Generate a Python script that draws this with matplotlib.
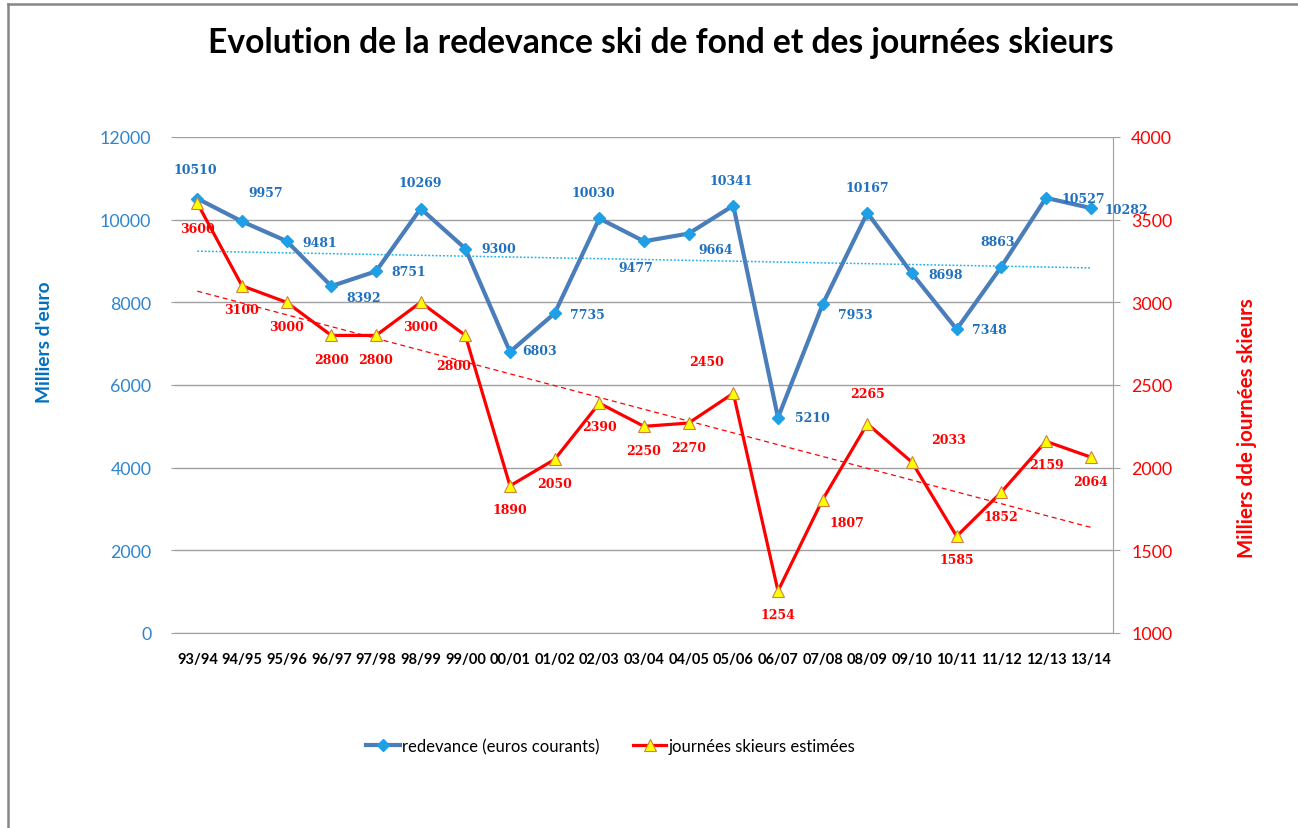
import numpy as np
import matplotlib
matplotlib.use("Agg")
import matplotlib.pyplot as plt
from matplotlib.lines import Line2D

# ---------------- data ----------------
seasons = ["93/94", "94/95", "95/96", "96/97", "97/98", "98/99", "99/00", "00/01",
           "01/02", "02/03", "03/04", "04/05", "05/06", "06/07", "07/08", "08/09",
           "09/10", "10/11", "11/12", "12/13", "13/14"]
redevance = [10510, 9957, 9481, 8392, 8751, 10269, 9300, 6803, 7735, 10030, 9477,
             9664, 10341, 5210, 7953, 10167, 8698, 7348, 8863, 10527, 10282]
journees = [3600, 3100, 3000, 2800, 2800, 3000, 2800, 1890, 2050, 2390, 2250,
            2270, 2450, 1254, 1807, 2265, 2033, 1585, 1852, 2159, 2064]

title = "Evolution de la redevance ski de fond et des journées skieurs"
left_label = "Milliers d'euro"
right_label = "Milliers dde journées skieurs"
legend_labels = ["redevance (euros courants)", "journées skieurs estimées"]

# label offsets in pixels (dx, dy downward)
blue_off = [(-2, -29), (24, -29), (33, 1), (32, 11), (33, 0), (0, -26), (33, 0),
            (30, -1), (33, 1), (-6, -26), (-8, 26), (27, 16), (-2, -25), (34, 0),
            (33, 10), (0, -25), (34, 1), (33, 0), (-4, -25), (37, 1), (36, 1)]
red_off = [(0, 25), (0, 24), (0, 24), (0, 24), (0, 24), (0, 24), (-12, 30),
           (0, 24), (0, 24), (0, 23), (0, 24), (0, 24), (-27, -32), (0, 23),
           (24, 23), (0, -30), (36, -23), (0, 23), (0, 24), (0, 23), (0, 24)]

# ---------------- style ----------------
W, H = 1298, 829
BLUE_LINE = "#4A7EBB"
BLUE_MK = "#1FA0E6"
BLUE_TXT = "#1F70BE"
BLUE_TICK = "#2F86CF"
RED = "#FF0000"
GRID = "#A0A0A0"
SANS = ["Lato", "DejaVu Sans"]
SERIF = ["DejaVu Serif"]

fig = plt.figure(figsize=(W / 100, H / 100), dpi=100)
ax = fig.add_axes([175 / W, 1 - 634 / H, (1113 - 175) / W, (634 - 138) / H])
ax2 = ax.twinx()

x = np.arange(len(seasons))

# left axis series
ax.plot(x, redevance, color=BLUE_LINE, lw=3.0, marker="D", ms=6.5,
        mfc=BLUE_MK, mec=BLUE_MK, zorder=3, label=legend_labels[0])
cb = np.polyfit(x, redevance, 1)
ax.plot(x, np.polyval(cb, x), color="#1FB0F0", lw=1.1, ls=(0, (1.2, 1.2)), zorder=2)

ax.set_xlim(-0.5, len(seasons) - 0.5)
ax.set_ylim(0, 12000)
ax.set_yticks(np.arange(0, 12001, 2000))
ax.grid(axis="y", color=GRID, lw=1.0)
ax.set_axisbelow(True)
for s in ["top", "left", "right"]:
    ax.spines[s].set_visible(False)
ax.spines["bottom"].set_color(GRID)
ax.tick_params(axis="y", length=3, color=GRID, pad=14, labelcolor=BLUE_TICK,
               labelsize=12.8)
ax.set_xticks(x)
ax.set_xticklabels(seasons, fontsize=10.5, fontweight="bold", family=SANS)
ax.tick_params(axis="x", length=0, pad=14)
for t in ax.get_yticklabels():
    t.set_family(SANS)

for xi, v, (dx, dy) in zip(x, redevance, blue_off):
    ax.annotate(str(v), (xi, v), xytext=(dx, -dy), textcoords="offset pixels",
                ha="center", va="center", color=BLUE_TXT, fontsize=9,
                fontweight="bold", family=SERIF, zorder=5)

# right axis series
ax2.plot(x, journees, color=RED, lw=2.3, marker="^", ms=8.5, mfc="#FFFF00",
         mec="#D08040", mew=0.8, zorder=4, label=legend_labels[1])
cr = np.polyfit(x, journees, 1)
ax2.plot(x, np.polyval(cr, x), color=RED, lw=0.9, ls=(0, (4, 3)), zorder=2)
ax2.set_ylim(1000, 4000)
ax2.set_yticks(np.arange(1000, 4001, 500))
for s in ["top", "left", "bottom"]:
    ax2.spines[s].set_visible(False)
ax2.spines["right"].set_color(GRID)
ax2.tick_params(axis="y", length=5, color=GRID, pad=8, labelcolor=RED,
                labelsize=12.8)
for t in ax2.get_yticklabels():
    t.set_family(SANS)

for xi, v, (dx, dy) in zip(x, journees, red_off):
    ax2.annotate(str(v), (xi, v), xytext=(dx, -dy), textcoords="offset pixels",
                 ha="center", va="center", color=RED, fontsize=9,
                 fontweight="bold", family=SERIF, zorder=6)

# titles / axis labels
fig.text(661 / W, 1 - 43 / H, title, ha="center", va="center", fontsize=24.2,
         fontweight="bold", family=SANS, color="black")
fig.text(45 / W, 1 - 342 / H, left_label, rotation=90, ha="center", va="center",
         fontsize=13.8, fontweight="bold", family=SANS, color="#0070C0")
fig.text(1247 / W, 1 - 428 / H, right_label, rotation=90, ha="center", va="center",
         fontsize=14.8, fontweight="bold", family=SANS, color=RED)

# legend
h1, _ = ax.get_legend_handles_labels()
h2, _ = ax2.get_legend_handles_labels()
fig.legend(h1 + h2, legend_labels, loc="center", bbox_to_anchor=(611 / W, 1 - 747 / H),
           ncol=2, frameon=False, prop={"family": SANS, "size": 12},
           handlelength=2.0, handletextpad=0.15, columnspacing=2.0)

# outer frame (top and left edges visible)
fig.add_artist(Line2D([8 / W, 8 / W], [0, 1 - 5 / H], transform=fig.transFigure,
                      color="#868686", lw=1.8))
fig.add_artist(Line2D([8 / W, 1], [1 - 5 / H, 1 - 5 / H], transform=fig.transFigure,
                      color="#868686", lw=1.8))

fig.savefig("out.png", dpi=100, facecolor="white")
